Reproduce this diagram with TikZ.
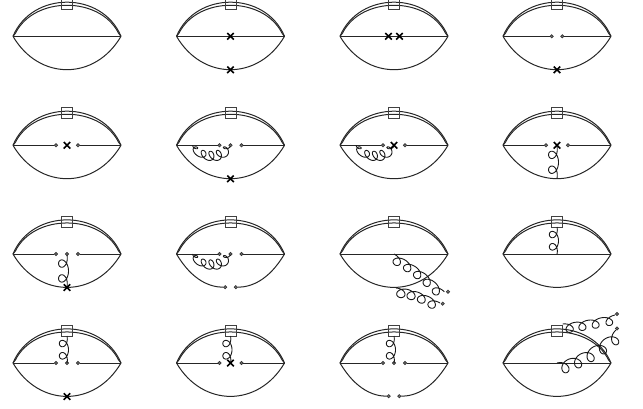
\documentclass[tikz,border=0pt]{standalone}
\usetikzlibrary{shapes.misc}
\tikzset{
  lineb/.style={line width=1pt,black!85,line join=round},
  mainline/.style={line width=0.95pt,black!85},
  boxb/.style={line width=0.85pt,black!75},
  dotn/.style={circle,draw=black!80,fill=black!55,line width=0.6pt,minimum size=3.3pt,inner sep=0pt},
  crossn/.style={cross out,draw=black,line width=1.6pt,minimum size=6.5pt,inner sep=0pt,outer sep=0pt},
  gluonline/.style={line width=0.9pt,black!90,line join=round}
}
% #1..#6 quadratic backbone, #7 loops, #8 normal amplitude, #9 tangential amplitude
\newcommand\gluon[9]{%
  \pgfmathsetmacro\gAx{2*((#3)-(#1))}%
  \pgfmathsetmacro\gAy{2*((#4)-(#2))}%
  \pgfmathsetmacro\gBx{2*((#1)-2*(#3)+(#5))}%
  \pgfmathsetmacro\gBy{2*((#2)-2*(#4)+(#6))}%
  \pgfmathtruncatemacro\gS{48*#7}%
  \draw[gluonline,samples=\gS,domain=0:1,variable=\t,
    declare function={
      gl(\t)=veclen(\gAx+\gBx*\t,\gAy+\gBy*\t);
      gtx(\t)=(\gAx+\gBx*\t)/gl(\t);
      gty(\t)=(\gAy+\gBy*\t)/gl(\t);
      gs(\t)=(#9)*sin(360*#7*\t);
      gc(\t)=(#8)*(1-cos(360*#7*\t));
    }] plot ({(1-\t)*(1-\t)*(#1)+2*\t*(1-\t)*(#3)+\t*\t*(#5)+gtx(\t)*gs(\t)-gty(\t)*gc(\t)},
             {(1-\t)*(1-\t)*(#2)+2*\t*(1-\t)*(#4)+\t*\t*(#6)+gty(\t)*gs(\t)+gtx(\t)*gc(\t)});
}
\newcommand\bagdiagram[3]{%
  \begin{scope}[shift={(#1,#2)}]
    \coordinate (L) at (-54,0);
    \coordinate (R) at (54,0);
    \draw[lineb] (L) .. controls (-35,-45.5) and (35,-45.5) .. (R);
    \draw[lineb] (L) -- (-51.6,-3) .. controls (-33,-40.4) and (33,-40.4) .. (51.6,-3) -- (R);
    \draw[boxb] (-5.5,-38) rectangle (5.5,-27);
    #3
  \end{scope}}
\newcommand\fullline{\draw[mainline] (L) -- (R);}
\newcommand\fullbottom{\draw[lineb] (L) .. controls (-28,44.5) and (28,44.5) .. (R);}
\newcommand\splitbottom{%
  \node[dotn] (bl) at (-5.3,33.2) {};
  \node[dotn] (br) at (5.3,33.2) {};
  \draw[lineb] (L) .. controls (-38,27) and (-20,33.2) .. (bl);
  \draw[lineb] (br) .. controls (20,33.2) and (38,27) .. (R);}
\newcommand\splitline[1]{%
  \node[dotn] (dl) at (-#1,0) {};
  \node[dotn] (dr) at (#1,0) {};
  \draw[mainline] (L) -- (dl);
  \draw[mainline] (dr) -- (R);}
\newcommand\centredot{\node[dotn] (dc) at (0,0) {};}
\newcommand\crosscentre{\node[crossn] (xc) at (0,0) {};}
\newcommand\crossbottom{\node[crossn] (xb) at (0,33.5) {};}
\newcommand\arcgluon{%
  \draw[gluonline,samples=240,domain=0:1,variable=\t,
    declare function={
      gc(\t)=4.8*(0.6+0.4*sin(180*\t))*(1-cos(1800*\t));
    }] plot ({-38+38*\t+4*sin(1800*\t)-0.3*gc(\t)+1.8*sin(180*\t)},
             {15.5*sqrt(abs(sin(180*\t)))-gc(\t)});}
\newcommand\lowgluon{\gluon{0}{1}{3}{17}{0}{33}{2}{4.8}{7}}
\newcommand\upgluon{\gluon{0}{-27}{3}{-13}{0}{0}{2}{4.4}{6}}
\begin{document}
\begin{tikzpicture}[x=1pt,y=-1pt]
  \useasboundingbox (0,0) rectangle (643,408);
  % row 1
  \bagdiagram{67}{36.3}{\fullline\fullbottom}
  \bagdiagram{230.5}{36.3}{\fullline\fullbottom\crosscentre\crossbottom}
  \bagdiagram{394}{36.3}{\fullline\fullbottom
    \node[crossn] (xa) at (-5.5,0) {};
    \node[crossn] (xd) at (5.5,0) {};}
  \bagdiagram{557}{36.3}{\splitline{5.3}\fullbottom\crossbottom}
  % row 2
  \bagdiagram{67}{145.3}{\splitline{11}\fullbottom\crosscentre}
  \bagdiagram{230.5}{145.3}{\splitline{11}\fullbottom\centredot\arcgluon\crossbottom}
  \bagdiagram{394}{145.3}{\splitline{11}\fullbottom\arcgluon\crosscentre}
  \bagdiagram{557}{145.3}{\splitline{11}\fullbottom\lowgluon\crosscentre}
  % row 3
  \bagdiagram{67}{254}{\splitline{11}\fullbottom\centredot\lowgluon\crossbottom}
  \bagdiagram{230.5}{254}{\splitline{11}\splitbottom\centredot\arcgluon}
  \bagdiagram{394}{254}{\fullline\fullbottom
    \gluon{0}{0}{28}{14}{50.5}{38}{5}{4.6}{6.5}
    \node[dotn] (ea) at (54,37.7) {};
    \gluon{2}{34}{24}{35}{46}{49}{4}{4.6}{6.5}
    \node[dotn] (eb) at (48.7,49.7) {};}
  \bagdiagram{557}{254}{\fullline\fullbottom\upgluon}
  % row 4
  \bagdiagram{67}{363}{\splitline{11}\fullbottom\centredot\upgluon\crossbottom}
  \bagdiagram{230.5}{363}{\splitline{11}\fullbottom\upgluon\crosscentre}
  \bagdiagram{394}{363}{\splitline{11}\splitbottom\centredot\upgluon}
  \bagdiagram{557}{363}{\fullline\fullbottom
    \gluon{5.7}{-39}{30}{-42}{58}{-48}{4}{4.6}{6.5}
    \node[dotn] (ec) at (60,-49) {};
    \gluon{0}{0}{30}{-8}{59}{-33}{5}{6}{6.5}
    \node[dotn] (ed) at (60,-34.5) {};}
\end{tikzpicture}
\end{document}
